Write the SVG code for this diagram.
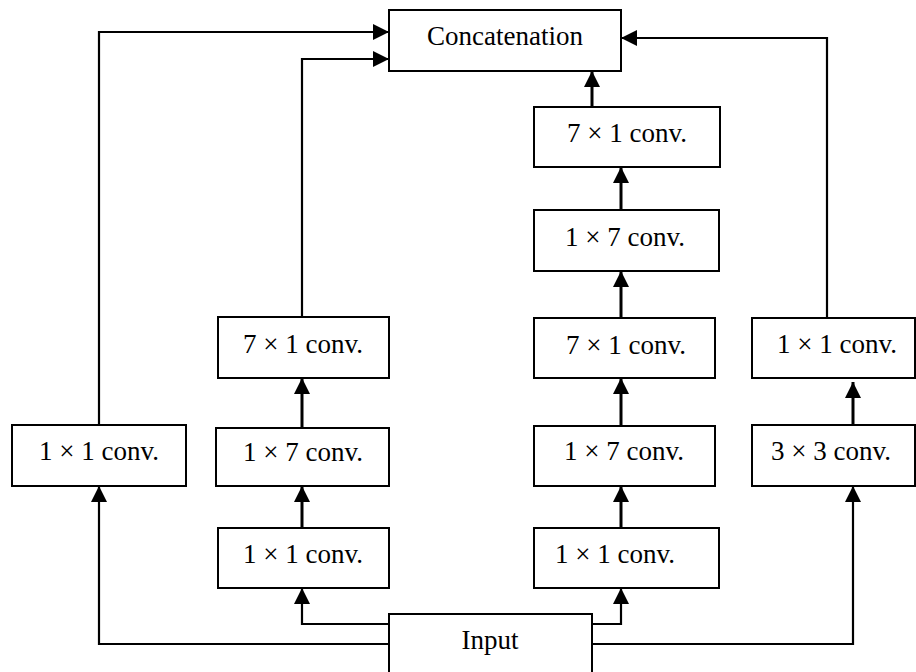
<svg xmlns="http://www.w3.org/2000/svg" width="916" height="672" viewBox="0 0 916 672">
<style>
.box{fill:#fff;stroke:#000;stroke-width:2}
.lbl{font-family:"Liberation Serif","Times New Roman",serif;font-size:27px;fill:#000;text-anchor:middle}
.c{fill:none;stroke:#000;stroke-width:2.2}
.t{fill:none;stroke:#000;stroke-width:3}
</style>
<defs>
<marker id="ah" markerUnits="userSpaceOnUse" markerWidth="16" markerHeight="16" viewBox="0 0 16 16" refX="16" refY="8" orient="auto">
<path d="M0,0 L16,8 L0,16 z" fill="#000"/>
</marker>
</defs>
<rect width="916" height="672" fill="#fff"/>
<g id="connectors">
<path class="c" d="M389,644 H99 V486" marker-end="url(#ah)"/>
<path class="c" d="M389,624 H302 V588" marker-end="url(#ah)"/>
<path class="c" d="M592,624 H621 V588" marker-end="url(#ah)"/>
<path class="c" d="M592,644 H853 V486" marker-end="url(#ah)"/>
<path class="t" d="M302,528 V486" marker-end="url(#ah)"/>
<path class="t" d="M302,428 V378" marker-end="url(#ah)"/>
<path class="c" d="M302,317 V59 H389" marker-end="url(#ah)"/>
<path class="c" d="M99,425 V32 H389" marker-end="url(#ah)"/>
<path class="t" d="M621,528 V486" marker-end="url(#ah)"/>
<path class="t" d="M621,426 V378" marker-end="url(#ah)"/>
<path class="t" d="M621,318 V271" marker-end="url(#ah)"/>
<path class="t" d="M621,210 V167" marker-end="url(#ah)"/>
<path class="t" d="M592,107 V71" marker-end="url(#ah)"/>
<path class="t" d="M853,427 V382" marker-end="url(#ah)"/>
<path class="c" d="M827,318 V38 H621" marker-end="url(#ah)"/>
</g>
<g id="concat"><rect class="box" x="389" y="10" width="232" height="61"/><text class="lbl" x="505" y="45">Concatenation</text></g>
<g id="input"><rect class="box" x="389" y="614" width="203" height="70"/><text class="lbl" x="490" y="649">Input</text></g>
<g id="b1_1x1"><rect class="box" x="12" y="425" width="174" height="61"/><text class="lbl" x="99" y="460">1 × 1 conv.</text></g>
<g id="b2_1x1"><rect class="box" x="218" y="528" width="171" height="60"/><text class="lbl" x="303" y="563">1 × 1 conv.</text></g>
<g id="b2_1x7"><rect class="box" x="216" y="428" width="173" height="58"/><text class="lbl" x="303" y="461">1 × 7 conv.</text></g>
<g id="b2_7x1"><rect class="box" x="218" y="317" width="171" height="61"/><text class="lbl" x="303" y="353">7 × 1 conv.</text></g>
<g id="b3_1x1"><rect class="box" x="534" y="528" width="185" height="60"/><text class="lbl" x="615" y="563">1 × 1 conv.</text></g>
<g id="b3_1x7a"><rect class="box" x="534" y="426" width="181" height="60"/><text class="lbl" x="624" y="460">1 × 7 conv.</text></g>
<g id="b3_7x1a"><rect class="box" x="534" y="318" width="181" height="60"/><text class="lbl" x="626" y="354">7 × 1 conv.</text></g>
<g id="b3_1x7b"><rect class="box" x="534" y="210" width="185" height="61"/><text class="lbl" x="625" y="246">1 × 7 conv.</text></g>
<g id="b3_7x1b"><rect class="box" x="534" y="107" width="186" height="60"/><text class="lbl" x="627" y="142">7 × 1 conv.</text></g>
<g id="b4_3x3"><rect class="box" x="752" y="425" width="163" height="61"/><text class="lbl" x="831" y="460">3 × 3 conv.</text></g>
<g id="b4_1x1"><rect class="box" x="752" y="318" width="163" height="60"/><text class="lbl" x="837" y="353">1 × 1 conv.</text></g>
</svg>
